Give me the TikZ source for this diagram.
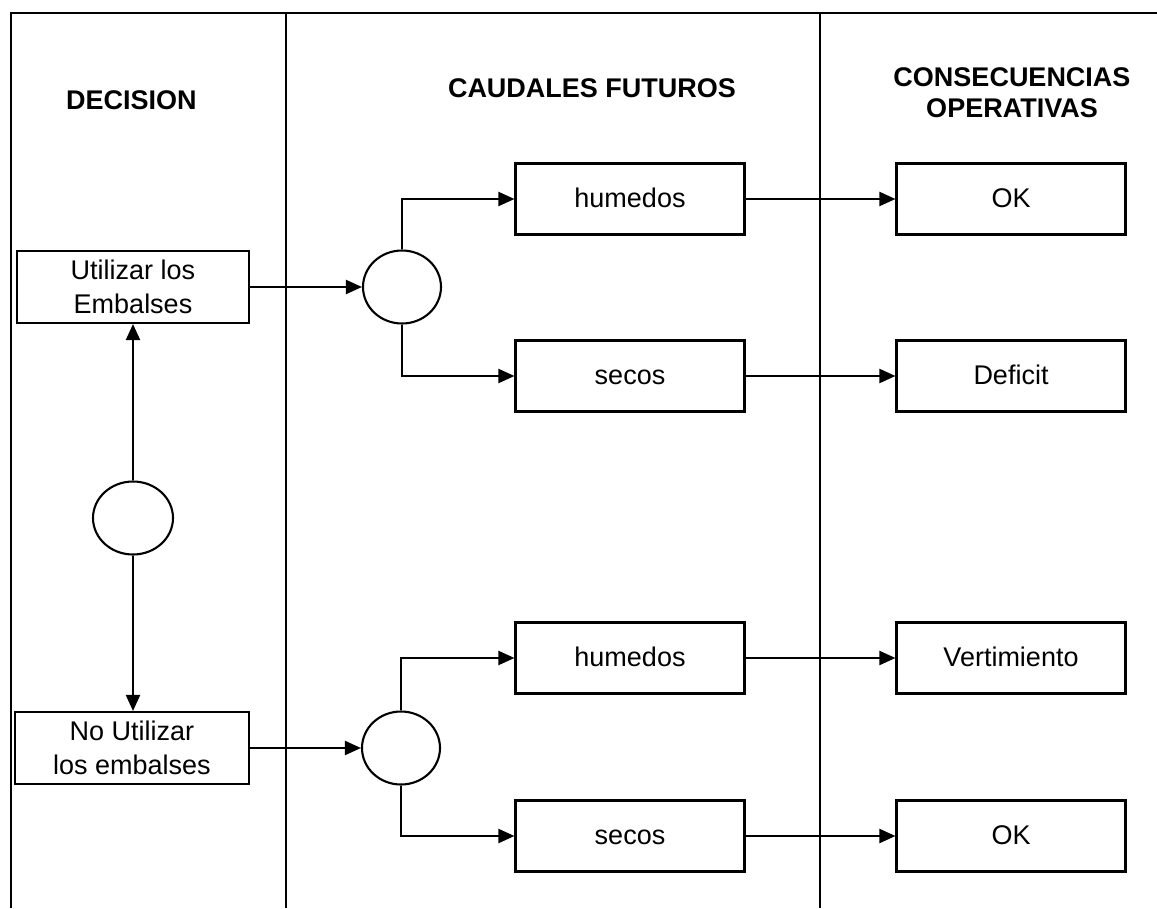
\documentclass[tikz,border=0pt]{standalone}
\usepackage{fontspec}
\setmainfont{Liberation Sans}
\usetikzlibrary{shapes.geometric,arrows.meta}
\begin{document}
\begin{tikzpicture}[x=1pt,y=-1pt,
  frameline/.style={line width=2.4pt},
  box/.style={draw,line width=2.1pt,minimum width=229pt,minimum height=71pt,inner sep=0pt,align=center,
    font=\fontsize{27}{34}\selectfont},
  oneline/.style={box,text height=21pt,text depth=4pt},
  chance/.style={draw,ellipse,line width=2.1pt,minimum width=78pt,minimum height=73pt,inner sep=0pt},
  title/.style={font=\fontsize{27}{31}\selectfont\bfseries,align=center,inner sep=0pt},
  link/.style={line width=2.1pt,-{Triangle[length=16pt,width=14pt]}}]
\useasboundingbox (0,0) rectangle (1157,908);
\fill[white] (0,0) rectangle (1157,908);

% frame and column dividers
\draw[frameline] (11,908) -- (11,13) -- (1157,13);
\draw[frameline] (286,13) -- (286,908);
\draw[frameline] (820,13) -- (820,908);

% column headings
\node[title,anchor=west] (hdec) at (66,100) {DECISION};
\node[title] (hcau) at (592,88) {CAUDALES FUTUROS};
\node[title] (hcon) at (1012,93) {CONSECUENCIAS\\OPERATIVAS};

% decision column
\node[box,minimum width=232pt,minimum height=72pt] (use) at (133,287) {Utilizar los\\Embalses};
\node[box,minimum width=234pt,minimum height=72pt] (nouse) at (132,748) {No Utilizar\\los embalses};
\node[chance,minimum width=80pt] (dec) at (133,518) {};

% chance nodes
\node[chance] (c1) at (402,287) {};
\node[chance] (c2) at (401,748) {};

% future inflows
\node[oneline] (h1) at (630,199) {humedos};
\node[oneline] (s1) at (630,376) {secos};
\node[oneline] (h2) at (630,658) {humedos};
\node[oneline] (s2) at (630,836) {secos};

% operating consequences
\node[oneline] (r1) at (1011,199) {OK};
\node[oneline] (r2) at (1011,376) {Deficit};
\node[oneline] (r3) at (1011,658) {Vertimiento};
\node[oneline] (r4) at (1011,836) {OK};

% connectors
\draw[link] (dec.north) -- (use.south -| dec.north);
\draw[link] (dec.south) -- (nouse.north -| dec.south);
\draw[link] (use.east) -- (c1.west);
\draw[link] (nouse.east) -- (c2.west);

\draw[link] (c1.north) |- (h1.west);
\draw[link] (c1.south) |- (s1.west);
\draw[link] (c2.north) |- (h2.west);
\draw[link] (c2.south) |- (s2.west);

\draw[link] (h1.east) -- (r1.west);
\draw[link] (s1.east) -- (r2.west);
\draw[link] (h2.east) -- (r3.west);
\draw[link] (s2.east) -- (r4.west);
\end{tikzpicture}
\end{document}
